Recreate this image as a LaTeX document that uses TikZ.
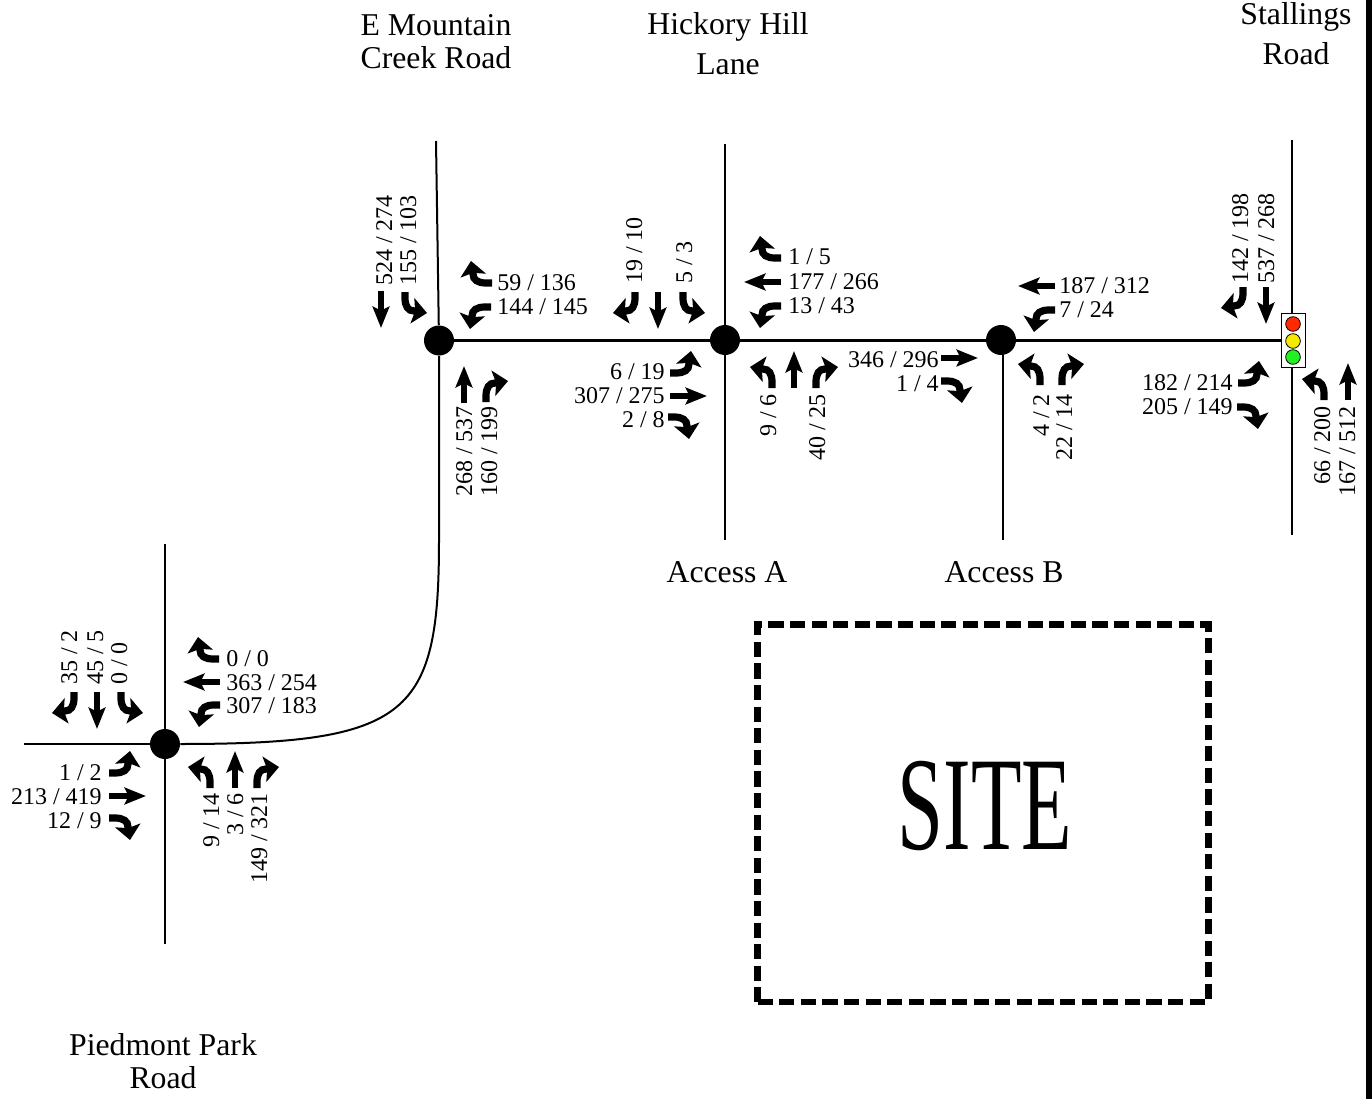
\documentclass[tikz,border=0pt]{standalone}
\usepackage{fontspec}
\setmainfont{Liberation Serif}
\usetikzlibrary{arrows.meta}

\begin{document}
\begin{tikzpicture}[
  x=0.75pt, y=-0.75pt,
  road/.style={line width=1.5pt},
  mainroad/.style={line width=2.2pt},
  junction/.style={circle, fill=black, minimum size=22.5pt, inner sep=0pt},
  volume/.style={font=\fontsize{18}{20}\selectfont, inner sep=0pt, text height=12pt, text depth=0pt},
  volup/.style={volume, rotate=90},
  roadname/.style={font=\fontsize{23.8}{24.75}\selectfont, align=center, inner sep=0pt},
  sitebox/.style={draw, line width=4.8pt, dash pattern=on 11.4pt off 4.8pt, minimum width=338pt, minimum height=283pt, inner sep=0pt},
  lamp/.style={circle, draw, line width=0.6pt, minimum size=11pt, inner sep=0pt},
  movement/.style={line width=4.5pt},
  turning/.style={line width=5.4pt},
  straighthead/.style={-{Stealth[length=16pt, width=12.5pt, inset=3pt]}},
  turnhead/.style={-{Stealth[length=11pt, width=19pt, inset=2pt]}},
  thru/.pic={\draw[movement, straighthead] (0,0) -- (0,-37);},
  turnl/.pic={\draw[turning, turnhead] (0,0) -- (0,-6) .. controls (0,-14) and (-3,-19) .. (-9,-19) -- (-22,-21);},
  turnr/.pic={\draw[turning, turnhead] (0,0) -- (0,-6) .. controls (0,-14) and (3,-19) .. (9,-19) -- (22,-21);},
]
\useasboundingbox (0,0) rectangle (1372,1099);
\fill (1366,0) rectangle (1372,1099);

% junctions
\node[junction] (mountain) at (439,340.5) {};
\node[junction] (hickory) at (725,340) {};
\node[junction] (accessb) at (1001,340) {};
\node[junction] (piedmont) at (165,744) {};
\coordinate (stallings) at (1292,340.5);
\coordinate (mountainN) at (436,141);
\coordinate (mountainS) at (439,540);
\coordinate (hickoryN) at (725,144);
\coordinate (hickoryS) at (725,540);
\coordinate (accessbT) at (1003,340.5);
\coordinate (accessbS) at (1003,540);
\coordinate (stallingsN) at (1292,140);
\coordinate (stallingsS) at (1292,535);
\coordinate (piedmontN) at (165,544);
\coordinate (piedmontS) at (165,944);
\coordinate (piedmontW) at (24,744);

% roads
\draw[road] (mountainN) -- (mountain);
\draw[road] (mountain) -- (mountainS) .. controls (439,715) and (410,744) .. (piedmont);
\draw[road] (hickoryN) -- (hickoryS);
\draw[road] (accessbT) -- (accessbS);
\draw[road] (stallingsN) -- (stallingsS);
\draw[road] (piedmontN) -- (piedmontS);
\draw[road] (piedmontW) -- (piedmont);
\draw[mainroad] (mountain.center) -- (stallings);

% signal
\node[draw, fill=white, line width=0.6pt, minimum width=18.5pt, minimum height=41pt, inner sep=0pt] (signal) at (1293.5,340.5) {};
\node[lamp, fill={rgb,255:red,255;green,42;blue,0}] (redlamp) at (1293,324) {};
\node[lamp, fill={rgb,255:red,245;green,233;blue,0}] (yellowlamp) at (1293,341) {};
\node[lamp, fill={rgb,255:red,34;green,240;blue,34}] (greenlamp) at (1293,357) {};

% road names
\node[roadname] (mountainname) at (436,42) {E Mountain\\Creek Road};
\node[roadname] (hickoryname) at (728,43.5) {Hickory Hill\\[5.25pt]Lane};
\node[roadname] (stallingsname) at (1296,33.5) {Stallings\\[5.25pt]Road};
\node[roadname] (accessaname) at (727,572) {Access A};
\node[roadname] (accessbname) at (1004,572) {Access B};
\node[roadname] (piedmontname) at (163,1061.5) {Piedmont Park\\Road};

% site
\node[sitebox] (site) at (983,813.2) {};
\node[font=\fontsize{100}{100}\selectfont, xscale=0.62, inner sep=0pt] (sitename) at (985,806) {SITE};

% E Mountain Creek Road
\pic[rotate=180] at (381,291) {thru};
\pic[rotate=180] at (405,292) {turnl};
\pic[rotate=90] at (492,283) {turnr};
\pic[rotate=90] at (491,307) {turnl};
\pic at (464,403) {thru};
\pic at (486,402) {turnr};
\node[volup, anchor=west] (ma) at (384,286) {524 / 274};
\node[volup, anchor=west] (mb) at (408,286) {155 / 103};
\node[volume, anchor=west] (mc) at (497,282) {59 / 136};
\node[volume, anchor=west] (md) at (497,306) {144 / 145};
\node[volup, anchor=east] (me) at (464,406) {268 / 537};
\node[volup, anchor=east] (mf) at (489,406) {160 / 199};

% Hickory Hill Lane / Access A
\pic[rotate=180] at (635,292) {turnr};
\pic[rotate=180] at (658,292) {thru};
\pic[rotate=180] at (683,292) {turnl};
\pic[rotate=-90] at (670,373) {turnl};
\pic[rotate=-90] at (670,396) {thru};
\pic[rotate=-90] at (668,417) {turnr};
\pic[rotate=90] at (781,258) {turnr};
\pic[rotate=90] at (781,282) {thru};
\pic[rotate=90] at (781,306) {turnl};
\pic at (772,388) {turnl};
\pic at (794,388) {thru};
\pic at (816,388) {turnr};
\node[volup, anchor=west] (ha) at (634,284) {19 / 10};
\node[volup, anchor=west] (hb) at (684,284) {5 / 3};
\node[volume, anchor=east] (hc) at (665,371) {6 / 19};
\node[volume, anchor=east] (hd) at (665,395) {307 / 275};
\node[volume, anchor=east] (he) at (665,419) {2 / 8};
\node[volume, anchor=west] (hf) at (788,256) {1 / 5};
\node[volume, anchor=west] (hg) at (788,281) {177 / 266};
\node[volume, anchor=west] (hh) at (788,305) {13 / 43};
\node[volup, anchor=east] (hi) at (768,394) {9 / 6};
\node[volup, anchor=east] (hj) at (817,394) {40 / 25};

% Access B
\pic[rotate=-90] at (941,358) {thru};
\pic[rotate=-90] at (941,381) {turnr};
\pic[rotate=90] at (1055,286) {thru};
\pic[rotate=90] at (1055,310) {turnl};
\pic at (1040,385) {turnl};
\pic at (1062,385) {turnr};
\node[volume, anchor=east] (ba) at (939,359) {346 / 296};
\node[volume, anchor=east] (bb) at (939,383) {1 / 4};
\node[volume, anchor=west] (bc) at (1059,285) {187 / 312};
\node[volume, anchor=west] (bd) at (1059,309) {7 / 24};
\node[volup, anchor=east] (be) at (1041,394) {4 / 2};
\node[volup, anchor=east] (bf) at (1064,394) {22 / 14};

% Stallings Road
\pic[rotate=180] at (1243,287) {turnr};
\pic[rotate=180] at (1266,287) {thru};
\pic[rotate=-90] at (1238,383) {turnl};
\pic[rotate=-90] at (1237,407) {turnr};
\pic at (1324,400) {turnl};
\pic at (1348,400) {thru};
\node[volup, anchor=west] (sa) at (1240,284) {142 / 198};
\node[volup, anchor=west] (sb) at (1266,284) {537 / 268};
\node[volume, anchor=east] (sc) at (1233,382) {182 / 214};
\node[volume, anchor=east] (sd) at (1233,406) {205 / 149};
\node[volup, anchor=east] (se) at (1322,406) {66 / 200};
\node[volup, anchor=east] (sf) at (1347,406) {167 / 512};

% Piedmont Park Road
\pic[rotate=180] at (74,692) {turnr};
\pic[rotate=180] at (97,692) {thru};
\pic[rotate=180] at (121,692) {turnl};
\pic[rotate=90] at (219,659) {turnr};
\pic[rotate=90] at (220,682) {thru};
\pic[rotate=90] at (220,705) {turnl};
\pic[rotate=-90] at (109,773) {turnl};
\pic[rotate=-90] at (109,796) {thru};
\pic[rotate=-90] at (109,818) {turnr};
\pic at (210,788) {turnl};
\pic at (235,788) {thru};
\pic at (257,788) {turnr};
\node[volup, anchor=west] (pa) at (69,685) {35 / 2};
\node[volup, anchor=west] (pb) at (95,685) {45 / 5};
\node[volup, anchor=west] (pc) at (119,685) {0 / 0};
\node[volume, anchor=west] (pd) at (226,658) {0 / 0};
\node[volume, anchor=west] (pe) at (226,682) {363 / 254};
\node[volume, anchor=west] (pf) at (226,705) {307 / 183};
\node[volume, anchor=east] (pg) at (102,772) {1 / 2};
\node[volume, anchor=east] (ph) at (102,796) {213 / 419};
\node[volume, anchor=east] (pi) at (102,820) {12 / 9};
\node[volup, anchor=east] (pj) at (211,793) {9 / 14};
\node[volup, anchor=east] (pk) at (235,793) {3 / 6};
\node[volup, anchor=east] (pl) at (259,793) {149 / 321};
\end{tikzpicture}
\end{document}
